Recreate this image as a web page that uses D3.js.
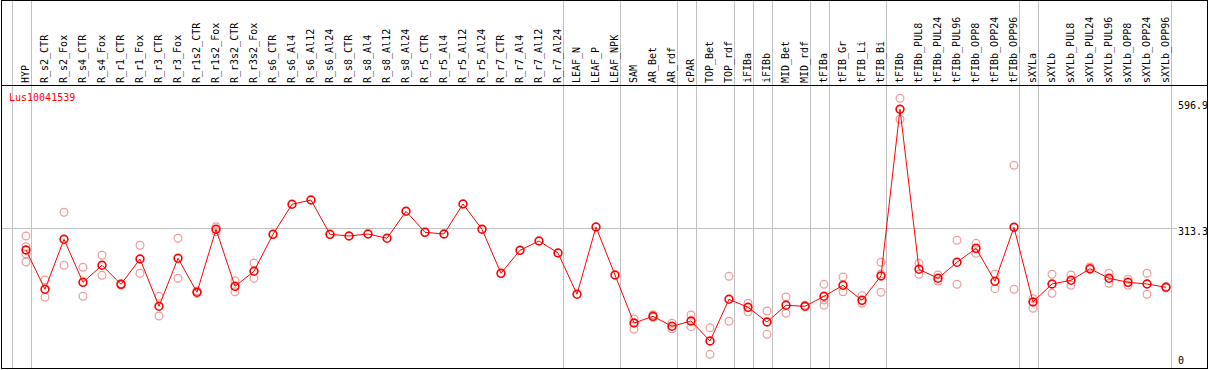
<!DOCTYPE html>
<html>
<head>
<meta charset="utf-8">
<script src="https://cdn.jsdelivr.net/npm/d3@7"></script>
<style>
  html, body { margin: 0; padding: 0; background: #fff; }
  svg { display: block; }
  text { font-family: "DejaVu Sans Mono", monospace; font-size: 10px; }
</style>
</head>
<body>
<svg id="chart" width="1209" height="370"></svg>
<script>
const geneName = "Lus10041539";
const categories = ["HYP","R_s2_CTR","R_s2_Fox","R_s4_CTR","R_s4_Fox","R_r1_CTR","R_r1_Fox","R_r3_CTR","R_r3_Fox","R_r1s2_CTR","R_r1s2_Fox","R_r3s2_CTR","R_r3s2_Fox","R_s6_CTR","R_s6_Al4","R_s6_Al12","R_s6_Al24","R_s8_CTR","R_s8_Al4","R_s8_Al12","R_s8_Al24","R_r5_CTR","R_r5_Al4","R_r5_Al12","R_r5_Al24","R_r7_CTR","R_r7_Al4","R_r7_Al12","R_r7_Al24","LEAF_N","LEAF_P","LEAF_NPK","SAM","AR_Bet","AR_rdf","cPAR","TOP_Bet","TOP_rdf","iFIBa","iFIBb","MID_Bet","MID_rdf","tFIBa","tFIB_Gr","tFIB_Li","tFIB_Bi","tFIBb","tFIBb_PUL8","tFIBb_PUL24","tFIBb_PUL96","tFIBb_OPP8","tFIBb_OPP24","tFIBb_OPP96","sXYLa","sXYLb","sXYLb_PUL8","sXYLb_PUL24","sXYLb_PUL96","sXYLb_OPP8","sXYLb_OPP24","sXYLb_OPP96"];
const meanValues = [264.8,176.6,288.8,192.3,230.5,187.8,244.6,138.5,246.2,169.9,311.3,183.3,217.0,300.0,367.4,377.0,300.0,296.2,300.7,291.1,351.7,304.5,300.7,368.0,311.3,212.5,264.1,285.0,258.1,165.4,316.4,208.7,101.0,116.0,93.6,105.5,60.6,154.2,136.2,103.2,140.7,138.5,160.9,185.6,151.9,206.5,580.6,221.5,201.3,237.2,268.6,194.6,315.8,148.1,188.5,196.8,222.8,201.3,192.3,188.5,181.1];
const rep1 = [296.2,197.5,349.4,226.0,252.9,189.0,275.4,160.9,291.1,172.8,317.1,195.9,235.6,null,null,null,null,null,null,null,null,null,null,null,null,null,null,null,null,null,null,null,110.0,119.6,100.3,118.9,90.4,205.8,145.2,127.9,159.3,140.7,187.8,204.2,162.3,237.2,605.2,235.0,208.7,286.6,279.8,210.9,454.9,155.5,210.3,208.7,226.7,212.5,199.1,212.5,182.5];
const rep2 = [237.9,158.7,230.5,160.9,208.0,186.0,212.5,116.7,201.3,167.6,305.9,171.2,201.3,null,null,null,null,null,null,null,null,null,null,null,null,null,null,null,null,null,null,null,86.8,113.8,88.2,92.7,30.7,104.8,126.3,75.6,122.8,137.6,140.7,171.2,145.2,169.9,558.1,210.3,195.2,187.8,257.4,178.0,176.6,134.0,167.6,185.6,220.6,190.1,185.6,165.4,180.0];
const rep3 = [272.2,null,null,null,null,null,null,null,null,null,null,null,null,null,null,null,null,null,null,null,null,null,null,null,null,null,null,null,null,null,null,null,null,null,null,null,null,null,null,null,null,null,152.6,null,null,210.9,null,null,null,null,null,null,null,null,null,null,null,null,null,null,null];
const rep4 = [255.8,null,null,null,null,null,null,null,null,null,null,null,null,null,null,null,null,null,null,null,null,null,null,null,null,null,null,null,null,null,null,null,null,null,null,null,null,null,null,null,null,null,null,null,null,null,null,null,null,null,null,null,null,null,null,null,null,null,null,null,null];
// indices after which a group separator is drawn (-1 = before first)
const groupEnds = [-1,0,28,31,34,35,37,38,39,41,42,45,52,53,60];
const tickValues = [0,313.3,596.9];
const tickLabels = ["0","313.3","596.9"];

const svg = d3.select("#chart");
const step = 19;
const x = d3.scalePoint().domain(categories).range([26, 26 + step*(categories.length-1)]);
const y = d3.scaleLinear().domain([0, 596.9]).range([368, 102]);
const hdr = 85;

// separators
const sepX = i => (i < 0 ? x(categories[0]) - step : x(categories[i])) + 4.5;
svg.append("g").selectAll("line").data(groupEnds).join("line")
  .attr("x1", d => Math.round(sepX(d)) + 0.5).attr("x2", d => Math.round(sepX(d)) + 0.5)
  .attr("y1", 0).attr("y2", 369)
  .attr("stroke", "#c0c0c0").attr("stroke-width", 1);

// horizontal gridline at mid tick
svg.append("line")
  .attr("x1", 1).attr("x2", 1177)
  .attr("y1", Math.round(y(313.3)) + 0.5).attr("y2", Math.round(y(313.3)) + 0.5)
  .attr("stroke", "#c0c0c0");

// frame
svg.append("rect").attr("x", 1.5).attr("y", 0.5).attr("width", 1206).attr("height", 368)
  .attr("fill", "none").attr("stroke", "#000");
svg.append("line").attr("x1", 1).attr("x2", 1208).attr("y1", hdr + 0.5).attr("y2", hdr + 0.5).attr("stroke", "#000");

// category labels
svg.append("g").selectAll("text").data(categories).join("text")
  .attr("transform", d => `translate(${x(d) + 3},83) rotate(-90)`)
  .attr("text-anchor", "start")
  .attr("fill", "#000")
  .text(d => d);

// y tick labels
svg.append("g").selectAll("text").data(tickValues).join("text")
  .attr("x", 1178)
  .attr("y", (d, i) => i === 0 ? y(d) - 4 : y(d) + 7)
  .attr("fill", "#000")
  .text((d, i) => tickLabels[i]);

// gene name
svg.append("text").attr("x", 9).attr("y", 101).attr("fill", "#ff0000").text(geneName);

// replicates
const reps = [rep1, rep2, rep3, rep4];
const repPts = [];
reps.forEach(arr => arr.forEach((v, i) => { if (v != null) repPts.push({c: categories[i], v}); }));
svg.append("g").selectAll("circle").data(repPts).join("circle")
  .attr("cx", d => x(d.c)).attr("cy", d => y(d.v)).attr("r", 3.9)
  .attr("fill", "none").attr("stroke", "#f09a9a").attr("stroke-width", 1.2);

// mean line
const pts = categories.map((c, i) => ({c, v: meanValues[i]}));
svg.append("path").datum(pts)
  .attr("d", d3.line().x(d => x(d.c)).y(d => y(d.v)))
  .attr("fill", "none").attr("stroke", "#ff0000").attr("stroke-width", 1);
svg.append("g").selectAll("circle").data(pts).join("circle")
  .attr("cx", d => x(d.c)).attr("cy", d => y(d.v)).attr("r", 3.9)
  .attr("fill", "none").attr("stroke", "#ff0000").attr("stroke-width", 1.6);
</script>
</body>
</html>
